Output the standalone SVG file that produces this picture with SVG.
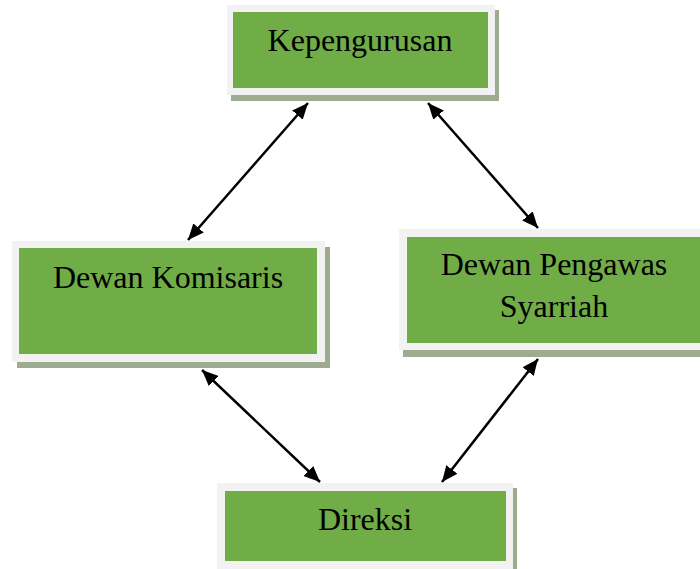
<svg xmlns="http://www.w3.org/2000/svg" width="700" height="569" viewBox="0 0 700 569">
<style>
.sh{fill:#9dab90}
.bd{fill:#f2f2f2}
.gr{fill:#70ad47}
.t{font-family:"Liberation Serif","Times New Roman",serif;font-size:32px;fill:#000;text-anchor:middle}
.c{stroke:#000;stroke-width:2.5;fill:none;marker-start:url(#ah);marker-end:url(#ah)}
</style>
<defs>
<marker id="ah" markerUnits="userSpaceOnUse" markerWidth="17" markerHeight="14" refX="16" refY="7" orient="auto-start-reverse" viewBox="0 0 17 14">
<path d="M0,0 L16,7 L0,14 z" fill="#000"/>
</marker>
</defs>
<rect width="700" height="569" fill="#fff"/>
<g id="kepengurusan">
<rect class="sh" x="231" y="10" width="268" height="91"/>
<rect class="bd" x="227" y="5" width="268" height="90"/>
<rect class="gr" x="233" y="12" width="255" height="76"/>
<text class="t" x="360" y="51">Kepengurusan</text>
</g>
<g id="dewan-komisaris">
<rect class="sh" x="17" y="247" width="313" height="121"/>
<rect class="bd" x="12" y="241" width="313" height="121"/>
<rect class="gr" x="19" y="248" width="298" height="106"/>
<text class="t" x="168" y="288">Dewan Komisaris</text>
</g>
<g id="dewan-pengawas-syarriah">
<rect class="sh" x="403" y="236" width="310" height="121"/>
<rect class="bd" x="399" y="229" width="310" height="121"/>
<rect class="gr" x="407" y="237" width="294" height="106"/>
<text class="t" x="554" y="275">Dewan Pengawas</text>
<text class="t" x="554" y="317">Syarriah</text>
</g>
<g id="direksi">
<rect class="sh" x="221" y="488" width="296" height="90"/>
<rect class="bd" x="217" y="483" width="296" height="90"/>
<rect class="gr" x="225" y="491" width="281" height="70"/>
<text class="t" x="365" y="530">Direksi</text>
</g>
<g id="connectors">
<line class="c" x1="308" y1="103" x2="188" y2="240"/>
<line class="c" x1="428" y1="103" x2="538" y2="228"/>
<line class="c" x1="202" y1="370" x2="320" y2="482"/>
<line class="c" x1="538" y1="359" x2="442" y2="482"/>
</g>
</svg>
